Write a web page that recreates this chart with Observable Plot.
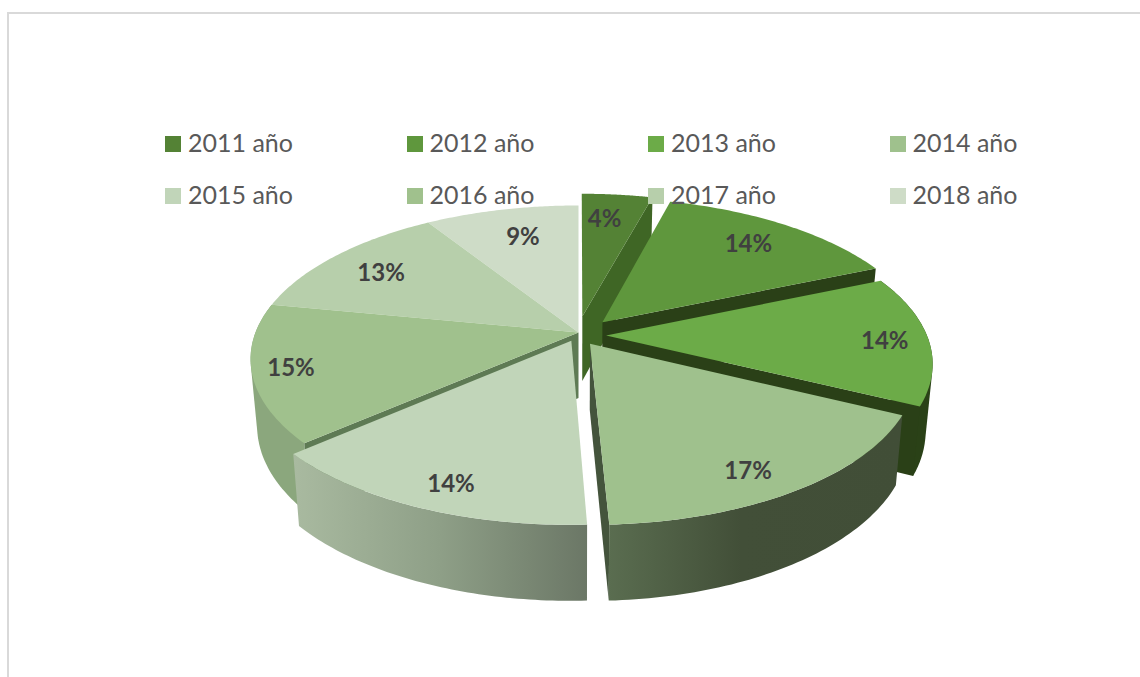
<!DOCTYPE html>
<html lang="es">
<head>
<meta charset="utf-8">
<script src="https://cdn.jsdelivr.net/npm/d3@7"></script>
<script src="https://cdn.jsdelivr.net/npm/@observablehq/plot@0.6"></script>
<style>
  html, body { margin: 0; padding: 0; background: #fff; overflow: hidden; }
  #wrap { position: relative; width: 1140px; height: 677px; }
  #wrap svg { display: block; }
  #frame { position: absolute; left: 7px; top: 12px; right: 0; bottom: 0;
           border-top: 2px solid #d9d9d9; border-left: 2px solid #d9d9d9; pointer-events: none; }
  #legend { position: absolute; left: 165px; top: 118px; display: grid;
            grid-template-columns: repeat(4, 241.5px); grid-auto-rows: 52px;
            font: 25px Lato, sans-serif; color: #595959; }
  #legend div { display: flex; align-items: center; white-space: nowrap; }
  #legend i { display: inline-block; width: 16px; height: 16px; margin-right: 7px; }
  #legend span { position: relative; top: -2px; }
</style>
</head>
<body>
<div id="wrap"></div>
<script>
// Data (slice sizes estimated; labels show them rounded)
const years = ["2011 año", "2012 año", "2013 año", "2014 año", "2015 año", "2016 año", "2017 año", "2018 año"];
const shares = [4.2, 14.43, 13.77, 17.1, 14.3, 14.6, 13, 9];

// Styling and layout
const topColors = ["#548235", "#5f973d", "#6cab48", "#9fc18d", "#c1d5b9", "#a0c18d", "#b7cfab", "#cedcc7"];
const explodeX = [0.012, 0.075, 0.085, 0.035, -0.022, 0, 0, 0];
const explodeY = [0.11, 0.07, -0.02, -0.075, -0.055, 0, 0, 0];
const radiusScale = [1, 1, 0.99, 0.98, 1, 1, 1, 1];
const labelRadius = [0.77, 0.78, 0.854, 0.838, 0.87, 0.885, 0.785, 0.74];
const labelTurn = [-1.5, 0, 1.3, 3.3, -2, 0, -1.2, 1];
const paintOrder = [7, 6, 0, 1, 2, 5, 3, 4];
const cx = 578, cy = 332, R = 323, S = 149, k = 0.173;

const project = (u, v) => { const d = 1 + k * v; return {x: cx + R * u / d, y: cy - S * v / d}; };
const lower = (p) => ({x: 580 + (p.x - 580) * 0.98, y: p.y + 66 + (p.y - 342) * 0.055});

const ends = Array.from(d3.cumsum(shares));
const total = ends[ends.length - 1];
const rad = (share) => (share / total) * 2 * Math.PI;
const planePoint = (i, theta, r) => project(r * Math.sin(theta) + explodeX[i], r * Math.cos(theta) + explodeY[i]);

const arc = (i) => {
  const a0 = rad(ends[i] - shares[i]), a1 = rad(ends[i]);
  return d3.range(61).map((t) => planePoint(i, a0 + (a1 - a0) * t / 60, radiusScale[i]));
};
const apex = (i) => planePoint(i, 0, 0);

const topFace = (i) => [apex(i), ...arc(i)].map((p) => ({...p, year: years[i]}));
const outerWall = (i) => { const a = arc(i); return [...a, ...a.slice().reverse().map(lower)]; };
const radialWall = (i, atEnd) => {
  const a = arc(i), p = atEnd ? a[a.length - 1] : a[0], c = apex(i);
  return [c, p, lower(p), lower(c)];
};
const poly = (pts, fill) => Plot.line(pts, {x: "x", y: "y", fill, stroke: "none"});
// Wall that wraps past the pie's silhouette: the hull fills the tangent edge, tops paint over the rest
const hullWall = (i) => d3.polygonHull(outerWall(i).map((p) => [p.x, p.y])).map(([x, y]) => ({x, y}));

// Visible side faces per slice, painted beneath that slice's top
const sideFaces = {
  0: () => [poly(radialWall(0, true), "#3f6625")],
  1: () => [poly(radialWall(1, true), "#2a4017")],
  2: () => [poly(hullWall(2), "#2a4117"), poly(radialWall(2, true), "#2a4017")],
  3: () => [poly(outerWall(3), "url(#wall2014)"), poly(radialWall(3, true), "#44543c")],
  4: () => [poly(outerWall(4), "url(#wall2015)")],
  5: () => [poly(hullWall(5), "#8ba77d"), poly(radialWall(5, false), "#5e7a54")]
};

const gradient = (id, stops) => {
  const g = d3.create("svg:linearGradient").attr("id", id);
  stops.forEach(([o, c]) => g.append("stop").attr("offset", o).attr("stop-color", c));
  return g.node();
};
const defs = () => {
  const d = d3.create("svg:defs");
  d.append(() => gradient("wall2014", [[0, "#5a6d50"], [0.45, "#424f38"], [1, "#414e37"]]));
  d.append(() => gradient("wall2015", [[0, "#a9baa0"], [0.5, "#8e9f87"], [1, "#6b7766"]]));
  return d.node();
};

const labels = years.map((year, i) => {
  const mid = rad(ends[i] - shares[i] / 2) + labelTurn[i] * Math.PI / 180;
  return {...planePoint(i, mid, labelRadius[i]), text: `${Math.round(shares[i])}%`};
});

const marks = [defs];
for (const i of paintOrder) {
  if (sideFaces[i]) marks.push(...sideFaces[i]());
  marks.push(Plot.line(topFace(i), {x: "x", y: "y", fill: "year", stroke: "none"}));
}
marks.push(Plot.text(labels, {x: "x", y: "y", text: "text", fontSize: 24, fontWeight: 700,
                              fontFamily: "Lato, sans-serif", fill: "#404040"}));

const chart = Plot.plot({
  width: 1140, height: 677, margin: 0,
  style: {background: "transparent"},
  x: {domain: [0, 1140], range: [0, 1140], axis: null},
  y: {domain: [0, 677], range: [0, 677], axis: null},
  color: {type: "ordinal", domain: years, range: topColors},
  marks
});

const wrap = document.getElementById("wrap");
wrap.append(chart);
const frame = document.createElement("div"); frame.id = "frame"; wrap.append(frame);
const legend = document.createElement("div"); legend.id = "legend";
years.forEach((y, i) => {
  const item = document.createElement("div");
  const sw = document.createElement("i"); sw.style.background = topColors[i];
  const label = document.createElement("span"); label.textContent = y;
  item.append(sw, label);
  legend.append(item);
});
wrap.append(legend);
</script>
</body>
</html>
